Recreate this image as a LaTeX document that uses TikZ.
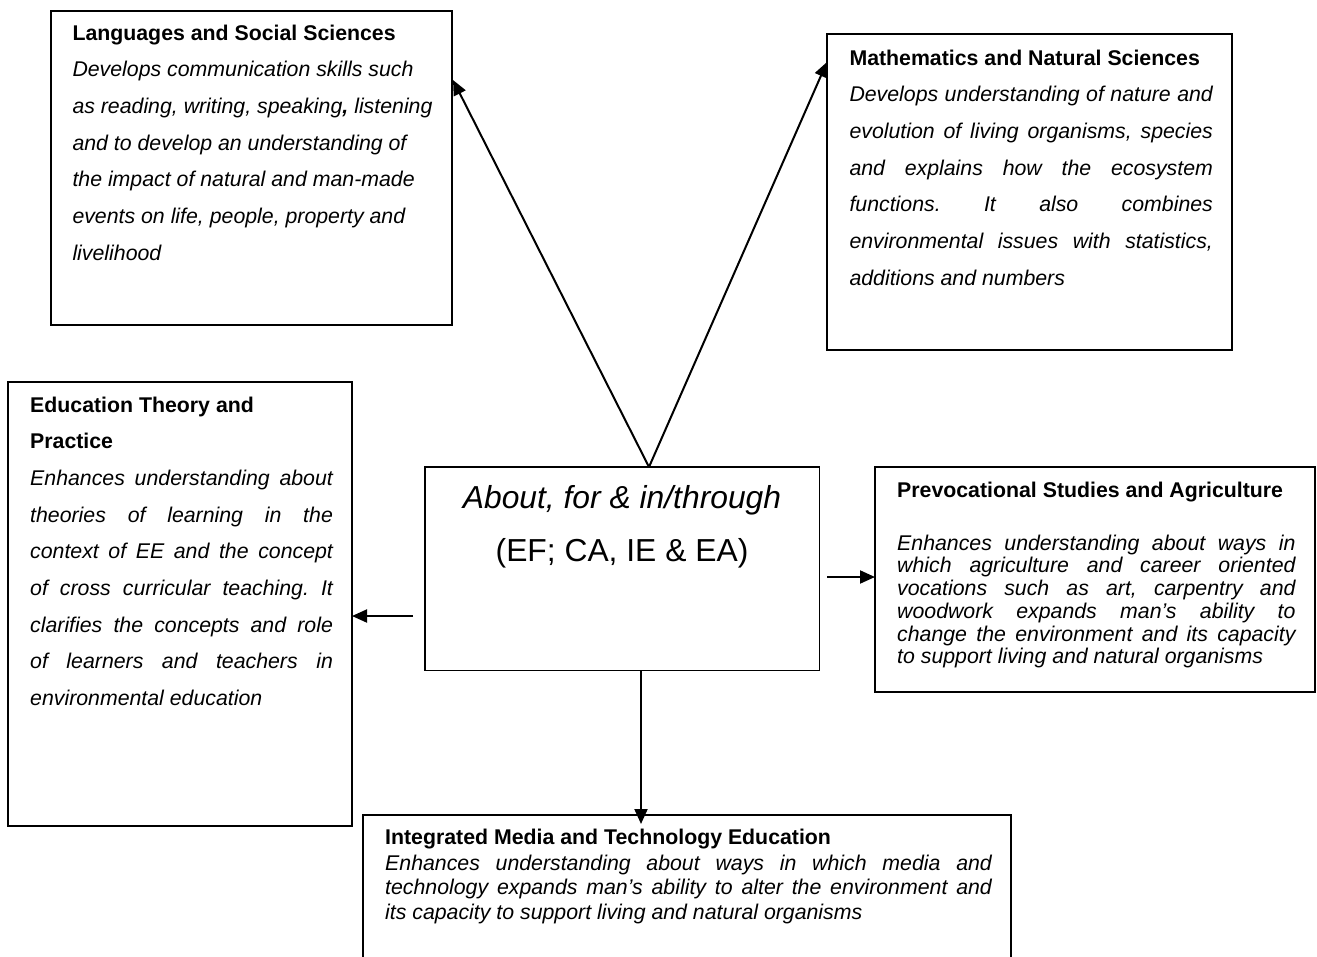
\documentclass[tikz,border=0pt]{standalone}
\usepackage{fontspec}
\setmainfont{Liberation Sans}
\usetikzlibrary{arrows.meta}
\newcommand{\jline}[2]{\makebox[#1][s]{#2}}
\newcommand{\natsp}{\spaceskip=0pt\xspaceskip=0pt\frenchspacing\relax}
\newcommand{\fixsp}{\spaceskip=\fontdimen2\font\relax\xspaceskip=\spaceskip\frenchspacing\relax}
\begin{document}
\lineskiplimit=-100pt
\begin{tikzpicture}[x=1pt,y=-1pt,
  box/.style={draw, line width=1.9pt, anchor=north west, inner sep=0pt, outer sep=0pt},
  arr/.style={line width=2pt, -{Triangle[length=15pt,width=13pt]}},
  body/.style={anchor=base west, inner sep=0pt, align=left},
  fbig/.style={font=\fontsize{21.3}{36.67}\selectfont},
  fsmall/.style={font=\fontsize{21.3}{22.68}\selectfont},
  fimte/.style={font=\fontsize{21.3}{24.2}\selectfont}
]
\fill[white] (0,0) rectangle (1317,956);
\clip (0,0) rectangle (1317,956);

% boxes
\node[box, minimum width=401pt, minimum height=314pt] (lss) at (51,11) {};
\node[box, minimum width=405pt, minimum height=316pt] (mns) at (827,34) {};
\node[box, minimum width=344pt, minimum height=444pt] (etp) at (8,382) {};
\node[box, minimum width=394.5pt, minimum height=203.5pt] (cen) at (425,467) {};
\node[box, minimum width=440pt, minimum height=225pt] (psa) at (875,467) {};
\node[box, minimum width=648pt, minimum height=160pt] (imte) at (363,815) {};

% texts
\node[body, fbig, text width=380pt] (lsst) at (72.3,40) {\natsp
\textbf{Languages and Social Sciences}\\
{\itshape Develops communication skills such\\
as reading, writing, speaking\textbf{,} listening\\
and to develop an understanding of\\
the impact of natural and man-made\\
events on life, people, property and\\
livelihood}};

\node[body, fbig, text width=363.4pt] (mnst) at (849.3,65) {\natsp
\textbf{Mathematics and Natural Sciences}\\
{\itshape\jline{363.4pt}{Develops understanding of nature and}\\
\jline{363.4pt}{evolution of living organisms, species}\\
\jline{363.4pt}{and explains how the ecosystem}\\
\jline{363.4pt}{functions. It also combines}\\
\jline{363.4pt}{environmental issues with statistics,}\\
additions and numbers}};

\node[body, fbig, text width=302.7pt] (etpt) at (30,412) {\natsp
\textbf{Education Theory and}\\
\textbf{Practice}\\
{\itshape\jline{302.7pt}{Enhances understanding about}\\
\jline{302.7pt}{theories of learning in the}\\
\jline{302.7pt}{context of EE and the concept}\\
\jline{302.7pt}{of cross curricular teaching. It}\\
\jline{302.7pt}{clarifies the concepts and role}\\
\jline{302.7pt}{of learners and teachers in}\\
environmental education}};

\node[anchor=base, inner sep=0pt, align=center, text width=390pt,
  font=\fontsize{31.8}{53}\selectfont] (cent) at (622,508) {\fixsp
{\itshape About, for \& in/through}\\
(EF; CA, IE \& EA)};

\node[body, fsmall, text width=398.3pt] (psat) at (897,497) {\natsp
\textbf{Prevocational Studies and Agriculture}\\[30.6pt]
{\itshape\jline{398.3pt}{Enhances understanding about ways in}\\
\jline{398.3pt}{which agriculture and career oriented}\\
\jline{398.3pt}{vocations such as art, carpentry and}\\
\jline{398.3pt}{woodwork expands man’s ability to}\\
\jline{398.3pt}{change the environment and its capacity}\\
to support living and natural organisms}};

\node[body, fimte, text width=606.7pt] (imtet) at (385,844) {\natsp
\textbf{Integrated Media and Technology Education}\\[2.4pt]
{\itshape\jline{606.7pt}{Enhances understanding about ways in which media and}\\
\jline{606.7pt}{technology expands man’s ability to alter the environment and}\\
its capacity to support living and natural organisms}};

% connectors
\coordinate (ctop) at (649,467);
\coordinate (lssin) at (453,80);
\coordinate (mnsin) at (827,62);
\coordinate (lfrom) at (413,616);
\coordinate (rfrom) at (827,577);
\coordinate (dfrom) at (641,670.5);
\coordinate (dto) at (641,824);

\draw[arr] (ctop) -- (lssin);
\draw[arr] (ctop) -- (mnsin);
\draw[arr] (lfrom) -- (etp.east |- lfrom);
\draw[arr] (rfrom) -- (psa.west |- rfrom);
\draw[arr] (dfrom) -- (dto);
\end{tikzpicture}
\end{document}
